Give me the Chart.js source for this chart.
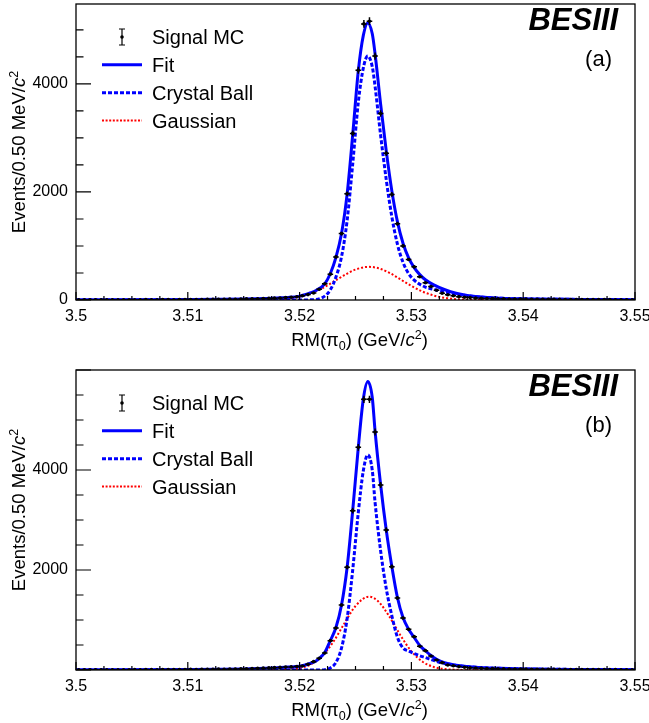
<!DOCTYPE html>
<html>
<head>
<meta charset="utf-8">
<title>RM(pi0) signal MC fits</title>
<script src="https://cdn.jsdelivr.net/npm/chart.js@4.4.1/dist/chart.umd.min.js"></script>
<style>
  html, body { margin: 0; padding: 0; background: #fff; }
  #wrap { position: relative; width: 649px; height: 723px; }
  canvas { position: absolute; left: 0; }
  #chartA { top: 0; }
  #chartB { top: 360px; }
</style>
</head>
<body>
<div id="wrap">
  <canvas id="chartA" width="649" height="360"></canvas>
  <canvas id="chartB" width="649" height="363"></canvas>
</div>
<script>
// binning: 100 bins of 0.5 MeV from 3.50 to 3.55 GeV
const binLow = 3.5;
const binWidth = 0.0005;
const binCenters = Array.from({ length: 100 }, (_, i) => +(binLow + binWidth * (i + 0.5)).toFixed(5));

const xTicks = [3.5, 3.51, 3.52, 3.53, 3.54, 3.55];
const xTickLabels = ['3.5', '3.51', '3.52', '3.53', '3.54', '3.55'];
const yTicksA = [0, 2000, 4000];
const yTicksB = [2000, 4000];

// Signal MC, panel (a)
const mcA = [3, 4, 2, 5, 3, 4, 6, 3, 5, 4, 6, 5, 7, 5, 6, 8, 7, 6, 9, 8,
  8, 10, 9, 12, 11, 13, 14, 16, 15, 18,
  20, 22, 24, 27, 30, 34, 38, 45, 52, 60,
  80, 100, 130, 200, 300, 479, 798, 1229, 1966, 3084,
  4252, 5112, 5161, 4516, 3453, 2716, 1954, 1413, 1002, 750,
  614, 430, 319, 250, 180, 125, 98, 80, 62, 52,
  44, 38, 33, 29, 26, 23,
  21, 19, 18, 17, 16, 15, 14, 13, 12, 12, 11, 10, 10, 9, 9, 8, 8, 7, 7, 7, 6, 6, 5, 5];

// Signal MC, panel (b)
const mcB = [2, 3, 4, 3, 5, 4, 6, 5, 4, 6, 7, 6, 8, 7, 6, 9, 8, 10, 9, 11,
  12, 11, 14, 13, 15, 17, 16, 19, 21, 24,
  26, 30, 33, 37, 42, 47, 52, 58, 62, 70,
  80, 113, 167, 233, 340, 587, 840, 1300, 2053, 3187,
  4453, 5413, 5413, 4760, 3700, 2800, 2067, 1440, 1040, 813,
  667, 475, 387, 280, 200, 147, 100, 85, 68, 55,
  46, 40, 34, 30, 27, 24,
  22, 20, 19, 18, 17, 15, 14, 14, 13, 12, 11, 11, 10, 10, 9, 9, 8, 8, 7, 7, 7, 6, 6, 5];

// fit curves, panel (a)
const fitXA = [3.500, 3.505, 3.510, 3.513, 3.515, 3.517, 3.518, 3.519, 3.520, 3.5205, 3.521, 3.5215, 3.52225,
  3.52275, 3.52325, 3.52375, 3.52425, 3.52475, 3.52525, 3.5257, 3.5261, 3.5265,
  3.52675, 3.52725, 3.52775, 3.52825, 3.52875, 3.52925, 3.52975, 3.53025, 3.53075, 3.53125,
  3.532, 3.533, 3.534, 3.535, 3.536, 3.538, 3.540, 3.545, 3.550];
const fitA = [3, 4, 8, 12, 18, 30, 38, 48, 72, 100, 135, 180, 300,
  490, 790, 1230, 1960, 3060, 4240, 4900, 5130, 4930,
  4560, 3620, 2760, 2020, 1450, 1050, 780, 600, 470, 375,
  280, 190, 125, 85, 58, 33, 21, 11, 6];
const cbXA = [3.500, 3.520, 3.521, 3.522, 3.52275, 3.52325, 3.52375, 3.52425, 3.52475, 3.52525,
  3.5257, 3.5261, 3.5265, 3.52675, 3.52725, 3.52775, 3.52825, 3.52875, 3.52925, 3.52975,
  3.53025, 3.53075, 3.53125, 3.532, 3.533, 3.534, 3.535, 3.536, 3.538, 3.540, 3.545, 3.550];
const cbA = [0, 0, 3, 40, 188, 424, 800, 1470, 2518, 3658,
  4297, 4516, 4319, 3957, 3045, 2228, 1542, 1033, 697, 490,
  368, 290, 240, 197, 151, 109, 79, 56, 33, 21, 11, 6];
const gausXA = [3.500, 3.515, 3.517, 3.518, 3.519, 3.520, 3.521, 3.522, 3.523, 3.524, 3.525, 3.5262,
  3.527, 3.528, 3.529, 3.530, 3.531, 3.532, 3.533, 3.534, 3.535, 3.536, 3.538, 3.550];
const gausA = [0, 1, 4, 11, 28, 62, 123, 215, 334, 460, 564, 614,
  591, 507, 385, 260, 156, 83, 39, 16, 6, 2, 0, 0];

// fit curves, panel (b)
const fitXB = [3.500, 3.505, 3.510, 3.513, 3.515, 3.517, 3.518, 3.519, 3.520, 3.5205, 3.521, 3.5215, 3.52175, 3.52225,
  3.52275, 3.52325, 3.52375, 3.52425, 3.52475, 3.52525, 3.5257, 3.5261, 3.5265,
  3.52675, 3.52725, 3.52775, 3.52825, 3.52875, 3.52925, 3.52975, 3.53025, 3.53075, 3.53125, 3.53175, 3.53225, 3.53275,
  3.534, 3.535, 3.536, 3.538, 3.540, 3.545, 3.550];
const fitB = [3, 5, 10, 15, 22, 35, 45, 58, 75, 100, 135, 185, 230, 350,
  590, 850, 1300, 2050, 3190, 4450, 5420, 5770, 5450,
  4780, 3700, 2800, 2070, 1450, 1050, 815, 650, 490, 385, 290, 215, 160,
  95, 68, 52, 33, 22, 11, 6];
const cbXB = [3.500, 3.521, 3.52175, 3.52225, 3.52275, 3.52325, 3.52375, 3.52425, 3.52475, 3.52525,
  3.5257, 3.5261, 3.5265, 3.52675, 3.52725, 3.52775, 3.52825, 3.52875, 3.52925, 3.52975,
  3.53025, 3.53075, 3.53125, 3.53175, 3.53225, 3.53275, 3.534, 3.535, 3.536, 3.538, 3.540, 3.545, 3.550];
const cbB = [0, 0, 0, 5, 42, 150, 440, 1026, 2000, 3150,
  3987, 4303, 3995, 3354, 2378, 1630, 1084, 656, 441, 380,
  330, 285, 248, 210, 172, 140, 90, 67, 52, 33, 22, 11, 6];
const gausXB = [3.500, 3.516, 3.518, 3.519, 3.520, 3.521, 3.522, 3.523, 3.524, 3.525, 3.5262,
  3.527, 3.528, 3.529, 3.530, 3.531, 3.532, 3.533, 3.534, 3.535, 3.536, 3.550];
const gausB = [0, 0, 3, 11, 39, 114, 277, 557, 929, 1280, 1467,
  1380, 1080, 700, 374, 166, 61, 19, 5, 1, 0, 0];

const legendLabels = ['Signal MC', 'Fit', 'Crystal Ball', 'Gaussian'];

const BLUE = '#0000ff';
const RED = '#ff0000';
const FONT = '"Liberation Sans", Arial, Helvetica, sans-serif';

function pts(xs, ys) {
    return xs.map((x, i) => ({ x: x, y: ys[i] }));
}

function fontOf(p, size) {
    const s = (p.sup || p.sub) ? size * 0.68 : size;
    return (p.italic ? 'italic ' : '') + s + 'px ' + FONT;
}

// text with super/subscripts, drawn centred on (x, y) baseline
function drawRich(ctx, parts, x, y, size) {
    const widths = parts.map(p => { ctx.font = fontOf(p, size); return ctx.measureText(p.t).width; });
    const total = widths.reduce((a, b) => a + b, 0);
    let cx = x - total / 2;
    ctx.textAlign = 'left';
    ctx.textBaseline = 'alphabetic';
    parts.forEach((p, i) => {
        ctx.font = fontOf(p, size);
        const dy = p.sup ? -size * 0.4 : (p.sub ? size * 0.22 : 0);
        ctx.fillText(p.t, cx, y + dy);
        cx += widths[i];
    });
}

const xTitle = [{ t: 'RM(' }, { t: 'π' }, { t: '0', sub: true }, { t: ') (GeV/' }, { t: 'c', italic: true }, { t: '2', sup: true }, { t: ')' }];
const yTitle = [{ t: 'Events/0.50 MeV/' }, { t: 'c', italic: true }, { t: '2', sup: true }];

// no extra label margins: the plot frame must sit exactly where the layout puts it
function noMargins(s) {
    s.paddingLeft = 0;
    s.paddingRight = 0;
    s.paddingTop = 0;
    s.paddingBottom = 0;
}

const rootDecor = {
    id: 'rootDecor',
    afterDatasetsDraw(chart) {
        const { ctx, chartArea: a, scales: { x, y } } = chart;
        const ds = chart.data.datasets[0];
        ctx.save();
        ctx.beginPath();
        ctx.rect(a.left, a.top, a.right - a.left, a.bottom - a.top);
        ctx.clip();
        ctx.strokeStyle = '#000';
        ctx.lineWidth = 1.5;
        ds.data.forEach(p => {
            const px = x.getPixelForValue(p.x);
            const py = y.getPixelForValue(p.y);
            const e = Math.sqrt(p.y);
            ctx.beginPath();
            ctx.moveTo(x.getPixelForValue(p.x - binWidth / 2), py);
            ctx.lineTo(x.getPixelForValue(p.x + binWidth / 2), py);
            ctx.moveTo(px, y.getPixelForValue(p.y - e));
            ctx.lineTo(px, y.getPixelForValue(p.y + e));
            ctx.stroke();
        });
        ctx.restore();
    },
    afterDraw(chart, args, o) {
        const { ctx, chartArea: a, scales: { x, y } } = chart;
        ctx.save();
        ctx.fillStyle = '#000';
        ctx.strokeStyle = '#000';

        // frame
        ctx.lineWidth = 1.3;
        ctx.strokeRect(a.left, a.top, a.right - a.left, a.bottom - a.top);

        // inward ticks
        ctx.lineWidth = 1.2;
        ctx.beginPath();
        for (let i = 0; i <= 20; i++) {
            const px = x.getPixelForValue(3.5 + i * 0.0025);
            const len = i % 4 === 0 ? 8 : 4;
            ctx.moveTo(px, a.bottom);
            ctx.lineTo(px, a.bottom - len);
        }
        for (let i = 0; i * 500 <= o.ymax; i++) {
            const py = y.getPixelForValue(i * 500);
            const len = i % 4 === 0 ? 15 : 7.5;
            ctx.moveTo(a.left, py);
            ctx.lineTo(a.left + len, py);
        }
        ctx.stroke();

        // axis titles
        drawRich(ctx, xTitle, (a.left + a.right) / 2 + 4, a.bottom + 46, 18.5);
        ctx.save();
        ctx.translate(25, (a.top + a.bottom) / 2 + o.yTitleShift);
        ctx.rotate(-Math.PI / 2);
        drawRich(ctx, yTitle, 0, 0, 18.5);
        ctx.restore();

        // legend
        const rows = o.legendRows.map(r => a.top + r);
        const lx0 = a.left + 26, lx1 = a.left + 66, lxm = a.left + 46;
        ctx.lineWidth = 1.2;
        ctx.beginPath();
        ctx.moveTo(lxm, rows[0] - 8); ctx.lineTo(lxm, rows[0] + 8);
        ctx.moveTo(lxm - 3, rows[0] - 8); ctx.lineTo(lxm + 3, rows[0] - 8);
        ctx.moveTo(lxm - 3, rows[0] + 8); ctx.lineTo(lxm + 3, rows[0] + 8);
        ctx.stroke();
        ctx.beginPath();
        ctx.arc(lxm, rows[0], 1.8, 0, Math.PI * 2);
        ctx.fill();

        ctx.strokeStyle = BLUE;
        ctx.lineWidth = 3;
        ctx.beginPath(); ctx.moveTo(lx0, rows[1]); ctx.lineTo(lx1, rows[1]); ctx.stroke();
        ctx.setLineDash([4, 2]);
        ctx.beginPath(); ctx.moveTo(lx0, rows[2]); ctx.lineTo(lx1, rows[2]); ctx.stroke();
        ctx.strokeStyle = RED;
        ctx.lineWidth = 2;
        ctx.setLineDash([2, 1.6]);
        ctx.beginPath(); ctx.moveTo(lx0, rows[3]); ctx.lineTo(lx1, rows[3]); ctx.stroke();
        ctx.setLineDash([]);

        ctx.font = '20px ' + FONT;
        ctx.textAlign = 'left';
        ctx.textBaseline = 'alphabetic';
        legendLabels.forEach((t, i) => ctx.fillText(t, a.left + 76, rows[i] + 7));

        // experiment and panel labels
        ctx.textAlign = 'right';
        ctx.font = 'italic bold 31px ' + FONT;
        ctx.fillText('BESIII', a.right - 17, a.top + 26);
        ctx.font = '22px ' + FONT;
        ctx.fillText(o.tag, a.right - 23, a.top + 62);
        ctx.restore();
    }
};

function makePanel(id, p) {
    return new Chart(document.getElementById(id), {
        type: 'line',
        data: {
            datasets: [
                {
                    label: 'Signal MC',
                    data: pts(binCenters, p.mc),
                    showLine: false,
                    pointRadius: 1.8,
                    pointBackgroundColor: '#000',
                    pointBorderWidth: 0
                },
                {
                    label: 'Fit',
                    data: pts(p.fitX, p.fit),
                    borderColor: BLUE,
                    borderWidth: 3,
                    pointRadius: 0,
                    cubicInterpolationMode: 'monotone'
                },
                {
                    label: 'Crystal Ball',
                    data: pts(p.cbX, p.cb),
                    borderColor: BLUE,
                    borderWidth: 3,
                    borderDash: [4, 2],
                    pointRadius: 0,
                    cubicInterpolationMode: 'monotone'
                },
                {
                    label: 'Gaussian',
                    data: pts(p.gausX, p.gaus),
                    borderColor: RED,
                    borderWidth: 2,
                    borderDash: [2, 2],
                    pointRadius: 0,
                    cubicInterpolationMode: 'monotone'
                }
            ]
        },
        options: {
            responsive: false,
            animation: false,
            layout: { padding: { top: p.padTop, right: 14, left: 0, bottom: 0 } },
            plugins: {
                legend: { display: false },
                tooltip: { enabled: false },
                rootDecor: { ymax: p.ymax, tag: p.tag, legendRows: [33, 60.7, 88.7, 116.5], yTitleShift: p.yTitleShift }
            },
            scales: {
                x: {
                    type: 'linear',
                    min: 3.5,
                    max: 3.55,
                    grid: { display: false, drawTicks: false },
                    border: { display: false },
                    afterBuildTicks: s => { s.ticks = xTicks.map(v => ({ value: v })); },
                    afterFit: s => { s.height = p.xAxisH; noMargins(s); },
                    ticks: {
                        autoSkip: false,
                        maxRotation: 0,
                        padding: 7,
                        color: '#000',
                        font: { family: FONT, size: 16 },
                        callback: (v, i) => xTickLabels[i]
                    }
                },
                y: {
                    type: 'linear',
                    min: 0,
                    max: p.ymax,
                    grid: { display: false, drawTicks: false },
                    border: { display: false },
                    afterBuildTicks: s => { s.ticks = p.yTicks.map(v => ({ value: v })); },
                    afterFit: s => { s.width = 76; noMargins(s); },
                    ticks: {
                        padding: 8,
                        color: '#000',
                        font: { family: FONT, size: 16 },
                        callback: v => String(v)
                    }
                }
            }
        },
        plugins: [rootDecor]
    });
}

makePanel('chartA', {
    mc: mcA, fitX: fitXA, fit: fitA, cbX: cbXA, cb: cbA, gausX: gausXA, gaus: gausA,
    yTicks: yTicksA, ymax: 5480, padTop: 2, xAxisH: 60, tag: '(a)', yTitleShift: 0
});
makePanel('chartB', {
    mc: mcB, fitX: fitXB, fit: fitB, cbX: cbXB, cb: cbB, gausX: gausXB, gaus: gausB,
    yTicks: yTicksB, ymax: 6000, padTop: 10, xAxisH: 53, tag: '(b)', yTitleShift: -10
});
</script>
</body>
</html>
